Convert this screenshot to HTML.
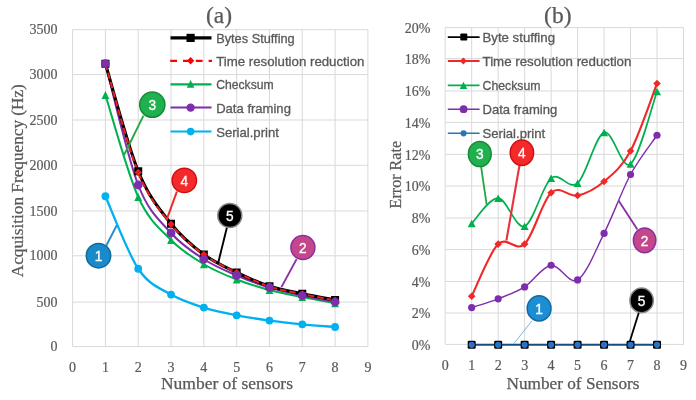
<!DOCTYPE html><html><head><meta charset="utf-8"><style>html,body{margin:0;padding:0;background:#fff;}svg{display:block;filter:blur(0.45px);}</style></head><body>
<svg width="696" height="400" viewBox="0 0 696 400">
<rect width="696" height="400" fill="#fff"/>
<path d="M72.60,346.60H367.90M72.60,302.10H367.90M72.60,255.80H367.90M72.60,211.00H367.90M72.60,165.30H367.90M72.60,120.00H367.90M72.60,74.60H367.90M72.60,29.70H367.90M72.60,29.70V346.60M105.41,29.70V346.60M138.22,29.70V346.60M171.03,29.70V346.60M203.84,29.70V346.60M236.66,29.70V346.60M269.47,29.70V346.60M302.28,29.70V346.60M335.09,29.70V346.60M367.90,29.70V346.60" stroke="#d9d9d9" stroke-width="1" fill="none"/>
<path d="M445.20,344.40H683.50M445.20,313.00H683.50M445.20,281.50H683.50M445.20,249.60H683.50M445.20,218.00H683.50M445.20,186.00H683.50M445.20,154.40H683.50M445.20,122.40H683.50M445.20,91.00H683.50M445.20,58.60H683.50M445.20,27.60H683.50M445.20,27.60V344.40M471.68,27.60V344.40M498.16,27.60V344.40M524.63,27.60V344.40M551.11,27.60V344.40M577.59,27.60V344.40M604.07,27.60V344.40M630.54,27.60V344.40M657.02,27.60V344.40M683.50,27.60V344.40" stroke="#d9d9d9" stroke-width="1" fill="none"/>
<g font-family="Liberation Serif, serif" font-size="14" fill="#595959" stroke="#595959" stroke-width="0.2">
<text x="57.6" y="351.20" text-anchor="end">0</text>
<text x="57.6" y="306.70" text-anchor="end">500</text>
<text x="57.6" y="260.40" text-anchor="end">1000</text>
<text x="57.6" y="215.60" text-anchor="end">1500</text>
<text x="57.6" y="169.90" text-anchor="end">2000</text>
<text x="57.6" y="124.60" text-anchor="end">2500</text>
<text x="57.6" y="79.20" text-anchor="end">3000</text>
<text x="57.6" y="34.30" text-anchor="end">3500</text>
<text x="72.60" y="372.2" text-anchor="middle">0</text>
<text x="105.41" y="372.2" text-anchor="middle">1</text>
<text x="138.22" y="372.2" text-anchor="middle">2</text>
<text x="171.03" y="372.2" text-anchor="middle">3</text>
<text x="203.84" y="372.2" text-anchor="middle">4</text>
<text x="236.66" y="372.2" text-anchor="middle">5</text>
<text x="269.47" y="372.2" text-anchor="middle">6</text>
<text x="302.28" y="372.2" text-anchor="middle">7</text>
<text x="335.09" y="372.2" text-anchor="middle">8</text>
<text x="367.90" y="372.2" text-anchor="middle">9</text>
<text x="430.3" y="349.50" text-anchor="end">0%</text>
<text x="430.3" y="318.10" text-anchor="end">2%</text>
<text x="430.3" y="286.60" text-anchor="end">4%</text>
<text x="430.3" y="254.70" text-anchor="end">6%</text>
<text x="430.3" y="223.10" text-anchor="end">8%</text>
<text x="430.3" y="191.10" text-anchor="end">10%</text>
<text x="430.3" y="159.50" text-anchor="end">12%</text>
<text x="430.3" y="127.50" text-anchor="end">14%</text>
<text x="430.3" y="96.10" text-anchor="end">16%</text>
<text x="430.3" y="63.70" text-anchor="end">18%</text>
<text x="430.3" y="32.70" text-anchor="end">20%</text>
<text x="445.20" y="369.7" text-anchor="middle">0</text>
<text x="471.68" y="369.7" text-anchor="middle">1</text>
<text x="498.16" y="369.7" text-anchor="middle">2</text>
<text x="524.63" y="369.7" text-anchor="middle">3</text>
<text x="551.11" y="369.7" text-anchor="middle">4</text>
<text x="577.59" y="369.7" text-anchor="middle">5</text>
<text x="604.07" y="369.7" text-anchor="middle">6</text>
<text x="630.54" y="369.7" text-anchor="middle">7</text>
<text x="657.02" y="369.7" text-anchor="middle">8</text>
<text x="683.50" y="369.7" text-anchor="middle">9</text>
</g>
<g font-family="Liberation Serif, serif" fill="#595959" stroke="#595959" stroke-width="0.25">
<text x="227" y="389" font-size="16" text-anchor="middle" textLength="132" lengthAdjust="spacingAndGlyphs">Number of sensors</text>
<text x="573" y="388.8" font-size="16" text-anchor="middle" textLength="133" lengthAdjust="spacingAndGlyphs">Number of Sensors</text>
<text transform="translate(22.5,180.7) rotate(-90)" font-size="16" text-anchor="middle" textLength="193" lengthAdjust="spacingAndGlyphs">Acquisition Frequency (Hz)</text>
<text transform="translate(401,174.7) rotate(-90)" font-size="16" text-anchor="middle" textLength="67.4" lengthAdjust="spacingAndGlyphs">Error Rate</text>
<text x="219.1" y="23" font-size="23.5" text-anchor="middle">(a)</text>
<text x="557.8" y="23" font-size="23.5" text-anchor="middle">(b)</text>
</g>
<g fill="none" stroke-linejoin="round">
<path d="M105.41,196.25 C110.88,208.33 127.29,252.36 138.22,268.75 C149.16,285.14 160.10,288.12 171.03,294.60 C181.97,301.08 192.91,304.15 203.84,307.60 C214.78,311.05 225.72,313.13 236.66,315.30 C247.59,317.47 258.53,319.10 269.47,320.60 C280.40,322.10 291.34,323.23 302.28,324.30 C313.21,325.37 329.62,326.55 335.09,327.00" stroke="#00b0f0" stroke-width="2.3"/>
<path d="M105.41,95.00 C110.88,112.00 127.29,172.83 138.22,197.00 C149.16,221.17 160.10,228.79 171.03,240.00 C181.97,251.21 192.91,257.67 203.84,264.25 C214.78,270.83 225.72,275.21 236.66,279.50 C247.59,283.79 258.53,287.08 269.47,290.00 C280.40,292.92 291.34,294.79 302.28,297.00 C313.21,299.21 329.62,302.21 335.09,303.25" stroke="#00b050" stroke-width="2.0"/>
<path d="M105.41,63.75 C110.88,83.96 127.29,156.79 138.22,185.00 C149.16,213.21 160.10,220.62 171.03,233.00 C181.97,245.38 192.91,252.17 203.84,259.25 C214.78,266.33 225.72,270.79 236.66,275.50 C247.59,280.21 258.53,284.17 269.47,287.50 C280.40,290.83 291.34,293.08 302.28,295.50 C313.21,297.92 329.62,300.92 335.09,302.00" stroke="#7e2dab" stroke-width="2.0"/>
<path d="M105.41,63.75 C110.88,81.67 127.29,144.58 138.22,171.25 C149.16,197.92 160.10,209.88 171.03,223.75 C181.97,237.62 192.91,246.38 203.84,254.50 C214.78,262.62 225.72,267.21 236.66,272.50 C247.59,277.79 258.53,282.71 269.47,286.25 C280.40,289.79 291.34,291.46 302.28,293.75 C313.21,296.04 329.62,298.96 335.09,300.00" stroke="#000" stroke-width="3.1"/>
<path d="M105.41,63.75 C110.88,81.88 127.29,145.75 138.22,172.50 C149.16,199.25 160.10,210.58 171.03,224.25 C181.97,237.92 192.91,246.46 203.84,254.50 C214.78,262.54 225.72,267.17 236.66,272.50 C247.59,277.83 258.53,282.92 269.47,286.50 C280.40,290.08 291.34,291.67 302.28,294.00 C313.21,296.33 329.62,299.42 335.09,300.50" stroke="#e82020" stroke-width="2.0" stroke-dasharray="6.5,3"/>
</g>
<circle cx="105.41" cy="196.25" r="3.90" fill="#00b0f0"/>
<circle cx="138.22" cy="268.75" r="3.90" fill="#00b0f0"/>
<circle cx="171.03" cy="294.60" r="3.90" fill="#00b0f0"/>
<circle cx="203.84" cy="307.60" r="3.90" fill="#00b0f0"/>
<circle cx="236.66" cy="315.30" r="3.90" fill="#00b0f0"/>
<circle cx="269.47" cy="320.60" r="3.90" fill="#00b0f0"/>
<circle cx="302.28" cy="324.30" r="3.90" fill="#00b0f0"/>
<circle cx="335.09" cy="327.00" r="3.90" fill="#00b0f0"/>
<path d="M105.41,91.10L109.31,98.90L101.51,98.90Z" fill="#00b050"/>
<path d="M138.22,193.10L142.12,200.90L134.32,200.90Z" fill="#00b050"/>
<path d="M171.03,236.10L174.93,243.90L167.13,243.90Z" fill="#00b050"/>
<path d="M203.84,260.35L207.74,268.15L199.94,268.15Z" fill="#00b050"/>
<path d="M236.66,275.60L240.56,283.40L232.76,283.40Z" fill="#00b050"/>
<path d="M269.47,286.10L273.37,293.90L265.57,293.90Z" fill="#00b050"/>
<path d="M302.28,293.10L306.18,300.90L298.38,300.90Z" fill="#00b050"/>
<path d="M335.09,299.35L338.99,307.15L331.19,307.15Z" fill="#00b050"/>
<rect x="101.41" y="59.75" width="8.00" height="8.00" fill="#000"/>
<rect x="134.22" y="167.25" width="8.00" height="8.00" fill="#000"/>
<rect x="167.03" y="219.75" width="8.00" height="8.00" fill="#000"/>
<rect x="199.84" y="250.50" width="8.00" height="8.00" fill="#000"/>
<rect x="232.66" y="268.50" width="8.00" height="8.00" fill="#000"/>
<rect x="265.47" y="282.25" width="8.00" height="8.00" fill="#000"/>
<rect x="298.28" y="289.75" width="8.00" height="8.00" fill="#000"/>
<rect x="331.09" y="296.00" width="8.00" height="8.00" fill="#000"/>
<path d="M105.41,60.05L109.11,63.75L105.41,67.45L101.71,63.75Z" fill="#f01c1c"/>
<path d="M138.22,168.80L141.92,172.50L138.22,176.20L134.52,172.50Z" fill="#f01c1c"/>
<path d="M171.03,220.55L174.73,224.25L171.03,227.95L167.33,224.25Z" fill="#f01c1c"/>
<path d="M203.84,250.80L207.54,254.50L203.84,258.20L200.14,254.50Z" fill="#f01c1c"/>
<path d="M236.66,268.80L240.36,272.50L236.66,276.20L232.96,272.50Z" fill="#f01c1c"/>
<path d="M269.47,282.80L273.17,286.50L269.47,290.20L265.77,286.50Z" fill="#f01c1c"/>
<path d="M302.28,290.30L305.98,294.00L302.28,297.70L298.58,294.00Z" fill="#f01c1c"/>
<path d="M335.09,296.80L338.79,300.50L335.09,304.20L331.39,300.50Z" fill="#f01c1c"/>
<circle cx="105.41" cy="63.75" r="4.40" fill="#7e2dab"/>
<circle cx="138.22" cy="185.00" r="4.40" fill="#7e2dab"/>
<circle cx="171.03" cy="233.00" r="4.40" fill="#7e2dab"/>
<circle cx="203.84" cy="259.25" r="4.40" fill="#7e2dab"/>
<circle cx="236.66" cy="275.50" r="4.40" fill="#7e2dab"/>
<circle cx="269.47" cy="287.50" r="4.40" fill="#7e2dab"/>
<circle cx="302.28" cy="295.50" r="4.40" fill="#7e2dab"/>
<circle cx="335.09" cy="302.00" r="4.40" fill="#7e2dab"/>
<g fill="none" stroke-linejoin="round">
<path d="M471.68,307.60 C476.09,306.13 489.33,302.25 498.16,298.80 C506.98,295.35 515.81,292.49 524.63,286.90 C533.46,281.31 542.29,266.42 551.11,265.25 C559.94,264.08 568.76,285.21 577.59,279.90 C586.41,274.59 595.24,250.97 604.07,233.40 C612.89,215.83 621.72,190.86 630.54,174.50 C639.37,158.14 652.61,141.79 657.02,135.25" stroke="#7e2dab" stroke-width="1.4"/>
<path d="M471.68,223.50 C476.09,219.28 489.33,197.74 498.16,198.20 C506.98,198.66 515.81,229.57 524.63,226.25 C533.46,222.93 542.29,185.48 551.11,178.30 C559.94,171.12 568.76,190.83 577.59,183.20 C586.41,175.57 595.24,135.70 604.07,132.50 C612.89,129.30 621.72,170.83 630.54,164.00 C639.37,157.17 652.61,103.58 657.02,91.50" stroke="#00b050" stroke-width="1.7"/>
<path d="M471.68,296.30 C476.09,287.60 489.33,252.80 498.16,244.10 C506.98,235.40 515.81,252.67 524.63,244.10 C533.46,235.53 542.29,200.80 551.11,192.70 C559.94,184.60 568.76,197.37 577.59,195.50 C586.41,193.63 595.24,188.92 604.07,181.50 C612.89,174.08 621.72,167.33 630.54,151.00 C639.37,134.67 652.61,94.75 657.02,83.50" stroke="#f02828" stroke-width="2.1"/>
<path d="M471.68,344.80H657.02" stroke="#1a4a7e" stroke-width="2.0"/>
</g>
<circle cx="471.68" cy="307.60" r="3.60" fill="#7e2dab"/>
<circle cx="498.16" cy="298.80" r="3.60" fill="#7e2dab"/>
<circle cx="524.63" cy="286.90" r="3.60" fill="#7e2dab"/>
<circle cx="551.11" cy="265.25" r="3.60" fill="#7e2dab"/>
<circle cx="577.59" cy="279.90" r="3.60" fill="#7e2dab"/>
<circle cx="604.07" cy="233.40" r="3.60" fill="#7e2dab"/>
<circle cx="630.54" cy="174.50" r="3.60" fill="#7e2dab"/>
<circle cx="657.02" cy="135.25" r="3.60" fill="#7e2dab"/>
<path d="M471.68,219.70L475.68,227.30L467.68,227.30Z" fill="#00b050"/>
<path d="M498.16,194.40L502.16,202.00L494.16,202.00Z" fill="#00b050"/>
<path d="M524.63,222.45L528.63,230.05L520.63,230.05Z" fill="#00b050"/>
<path d="M551.11,174.50L555.11,182.10L547.11,182.10Z" fill="#00b050"/>
<path d="M577.59,179.40L581.59,187.00L573.59,187.00Z" fill="#00b050"/>
<path d="M604.07,128.70L608.07,136.30L600.07,136.30Z" fill="#00b050"/>
<path d="M630.54,160.20L634.54,167.80L626.54,167.80Z" fill="#00b050"/>
<path d="M657.02,87.70L661.02,95.30L653.02,95.30Z" fill="#00b050"/>
<path d="M471.68,292.50L475.48,296.30L471.68,300.10L467.88,296.30Z" fill="#f02828"/>
<path d="M498.16,240.30L501.96,244.10L498.16,247.90L494.36,244.10Z" fill="#f02828"/>
<path d="M524.63,240.30L528.43,244.10L524.63,247.90L520.83,244.10Z" fill="#f02828"/>
<path d="M551.11,188.90L554.91,192.70L551.11,196.50L547.31,192.70Z" fill="#f02828"/>
<path d="M577.59,191.70L581.39,195.50L577.59,199.30L573.79,195.50Z" fill="#f02828"/>
<path d="M604.07,177.70L607.87,181.50L604.07,185.30L600.27,181.50Z" fill="#f02828"/>
<path d="M630.54,147.20L634.34,151.00L630.54,154.80L626.74,151.00Z" fill="#f02828"/>
<path d="M657.02,79.70L660.82,83.50L657.02,87.30L653.22,83.50Z" fill="#f02828"/>
<rect x="467.68" y="340.80" width="8" height="8" rx="1.3" fill="#000"/>
<circle cx="471.68" cy="344.80" r="3.10" fill="#2a72c4"/>
<rect x="494.16" y="340.80" width="8" height="8" rx="1.3" fill="#000"/>
<circle cx="498.16" cy="344.80" r="3.10" fill="#2a72c4"/>
<rect x="520.63" y="340.80" width="8" height="8" rx="1.3" fill="#000"/>
<circle cx="524.63" cy="344.80" r="3.10" fill="#2a72c4"/>
<rect x="547.11" y="340.80" width="8" height="8" rx="1.3" fill="#000"/>
<circle cx="551.11" cy="344.80" r="3.10" fill="#2a72c4"/>
<rect x="573.59" y="340.80" width="8" height="8" rx="1.3" fill="#000"/>
<circle cx="577.59" cy="344.80" r="3.10" fill="#2a72c4"/>
<rect x="600.07" y="340.80" width="8" height="8" rx="1.3" fill="#000"/>
<circle cx="604.07" cy="344.80" r="3.10" fill="#2a72c4"/>
<rect x="626.54" y="340.80" width="8" height="8" rx="1.3" fill="#000"/>
<circle cx="630.54" cy="344.80" r="3.10" fill="#2a72c4"/>
<rect x="653.02" y="340.80" width="8" height="8" rx="1.3" fill="#000"/>
<circle cx="657.02" cy="344.80" r="3.10" fill="#2a72c4"/>
<path d="M170.5,37.90H211.5" stroke="#000" stroke-width="3.2"/>
<rect x="186.50" y="33.80" width="8.20" height="8.20" fill="#000"/>
<text x="216.2" y="42.80" font-family="Liberation Sans, sans-serif" font-size="13" fill="#595959" stroke="#595959" stroke-width="0.3" textLength="78.5" lengthAdjust="spacingAndGlyphs">Bytes Stuffing</text>
<path d="M170.2,60.80H212" stroke="#ff0000" stroke-width="2.2" stroke-dasharray="6.8,6.0"/>
<path d="M190.60,57.10L194.30,60.80L190.60,64.50L186.90,60.80Z" fill="#ff0000"/>
<text x="216.2" y="65.70" font-family="Liberation Sans, sans-serif" font-size="13" fill="#595959" stroke="#595959" stroke-width="0.3" textLength="148.3" lengthAdjust="spacingAndGlyphs">Time resolution reduction</text>
<path d="M170.5,84.40H211.5" stroke="#00b050" stroke-width="2.2"/>
<path d="M190.60,80.10L194.40,87.70L186.80,87.70Z" fill="#00b050"/>
<text x="216.2" y="89.30" font-family="Liberation Sans, sans-serif" font-size="13" fill="#595959" stroke="#595959" stroke-width="0.3" textLength="57.5" lengthAdjust="spacingAndGlyphs">Checksum</text>
<path d="M170.5,107.60H211.5" stroke="#7e2dab" stroke-width="2.0"/>
<circle cx="190.60" cy="107.60" r="4.20" fill="#7e2dab"/>
<text x="216.2" y="112.50" font-family="Liberation Sans, sans-serif" font-size="13" fill="#595959" stroke="#595959" stroke-width="0.3" textLength="74.7" lengthAdjust="spacingAndGlyphs">Data framing</text>
<path d="M170.5,131.60H211.5" stroke="#00b0f0" stroke-width="2.0"/>
<circle cx="190.60" cy="131.60" r="3.80" fill="#00b0f0"/>
<text x="216.2" y="136.50" font-family="Liberation Sans, sans-serif" font-size="13" fill="#595959" stroke="#595959" stroke-width="0.3" textLength="62.7" lengthAdjust="spacingAndGlyphs">Serial.print</text>
<path d="M447.8,37.10H479.6" stroke="#000" stroke-width="1.9"/>
<rect x="460.30" y="33.60" width="7" height="7" rx="1" fill="#000"/>
<text x="482.5" y="42.10" font-family="Liberation Sans, sans-serif" font-size="13" fill="#595959" stroke="#595959" stroke-width="0.3" textLength="72.5" lengthAdjust="spacingAndGlyphs">Byte stuffing</text>
<path d="M447.8,60.90H479.6" stroke="#f02828" stroke-width="2.0"/>
<path d="M463.40,57.40L466.90,60.90L463.40,64.40L459.90,60.90Z" fill="#f02828"/>
<text x="482.5" y="65.90" font-family="Liberation Sans, sans-serif" font-size="13" fill="#595959" stroke="#595959" stroke-width="0.3" textLength="148.9" lengthAdjust="spacingAndGlyphs">Time resolution reduction</text>
<path d="M447.8,85.30H479.6" stroke="#00b050" stroke-width="1.7"/>
<path d="M463.50,81.70L467.30,88.90L459.70,88.90Z" fill="#00b050"/>
<text x="482.5" y="90.30" font-family="Liberation Sans, sans-serif" font-size="13" fill="#595959" stroke="#595959" stroke-width="0.3" textLength="58.1" lengthAdjust="spacingAndGlyphs">Checksum</text>
<path d="M447.8,109.20H479.6" stroke="#7e2dab" stroke-width="1.5"/>
<circle cx="463.60" cy="109.20" r="3.90" fill="#7e2dab"/>
<text x="482.5" y="114.20" font-family="Liberation Sans, sans-serif" font-size="13" fill="#595959" stroke="#595959" stroke-width="0.3" textLength="74.8" lengthAdjust="spacingAndGlyphs">Data framing</text>
<path d="M447.8,133.30H479.6" stroke="#2e75b6" stroke-width="1.6"/>
<circle cx="463.60" cy="133.30" r="3.10" fill="#2e75b6"/>
<text x="482.5" y="138.30" font-family="Liberation Sans, sans-serif" font-size="13" fill="#595959" stroke="#595959" stroke-width="0.3" textLength="62.7" lengthAdjust="spacingAndGlyphs">Serial.print</text>
<path d="M143.50,115.70L124.00,155.00" stroke="#22a846" stroke-width="1.9"/>
<ellipse cx="152.30" cy="104.70" rx="12.60" ry="12.60" fill="#20b04e" stroke="#178a3a" stroke-width="1.5"/>
<text x="152.30" y="110.15" font-family="Liberation Sans, sans-serif" font-size="15.2" fill="#fff" stroke="#fff" stroke-width="0.35" text-anchor="middle" textLength="7.6" lengthAdjust="spacingAndGlyphs">3</text>
<path d="M176.90,191.50L166.40,220.40" stroke="#ee2a2a" stroke-width="2.0"/>
<ellipse cx="184.30" cy="180.40" rx="12.20" ry="12.20" fill="#f42a2a" stroke="#d01010" stroke-width="1.5"/>
<text x="184.30" y="185.85" font-family="Liberation Sans, sans-serif" font-size="15.2" fill="#fff" stroke="#fff" stroke-width="0.35" text-anchor="middle" textLength="7.6" lengthAdjust="spacingAndGlyphs">4</text>
<path d="M226.90,227.40L218.10,263.30" stroke="#000" stroke-width="1.9"/>
<ellipse cx="229.80" cy="215.50" rx="12.00" ry="12.00" fill="#000" stroke="#888" stroke-width="1.5"/>
<text x="229.80" y="220.95" font-family="Liberation Sans, sans-serif" font-size="15.2" fill="#fff" stroke="#fff" stroke-width="0.35" text-anchor="middle" textLength="7.6" lengthAdjust="spacingAndGlyphs">5</text>
<path d="M296.60,259.10L281.40,287.10" stroke="#8a2fa0" stroke-width="1.9"/>
<ellipse cx="302.90" cy="247.50" rx="12.00" ry="12.00" fill="#c4478c" stroke="#8a2fa0" stroke-width="1.5"/>
<text x="302.90" y="252.95" font-family="Liberation Sans, sans-serif" font-size="15.2" fill="#fff" stroke="#fff" stroke-width="0.35" text-anchor="middle" textLength="7.6" lengthAdjust="spacingAndGlyphs">2</text>
<path d="M106.20,245.80L116.80,225.20" stroke="#2a8ac8" stroke-width="1.9"/>
<ellipse cx="98.50" cy="255.70" rx="12.20" ry="12.20" fill="#1a8ac8" stroke="#0f6aa0" stroke-width="1.5"/>
<text x="98.50" y="261.15" font-family="Liberation Sans, sans-serif" font-size="15.2" fill="#fff" stroke="#fff" stroke-width="0.35" text-anchor="middle" textLength="7.6" lengthAdjust="spacingAndGlyphs">1</text>
<path d="M481.00,166.00L486.60,204.30" stroke="#22a846" stroke-width="1.8"/>
<ellipse cx="479.80" cy="154.00" rx="11.40" ry="12.60" fill="#20b04e" stroke="#178a3a" stroke-width="1.5"/>
<text x="479.80" y="159.45" font-family="Liberation Sans, sans-serif" font-size="15.2" fill="#fff" stroke="#fff" stroke-width="0.35" text-anchor="middle" textLength="7.6" lengthAdjust="spacingAndGlyphs">3</text>
<path d="M519.50,165.30L506.40,240.50" stroke="#e8323c" stroke-width="2.1"/>
<ellipse cx="521.90" cy="152.70" rx="11.70" ry="12.70" fill="#f42a2a" stroke="#d01010" stroke-width="1.5"/>
<text x="521.90" y="158.15" font-family="Liberation Sans, sans-serif" font-size="15.2" fill="#fff" stroke="#fff" stroke-width="0.35" text-anchor="middle" textLength="7.6" lengthAdjust="spacingAndGlyphs">4</text>
<path d="M637.40,229.50L618.50,200.40" stroke="#8a2fa0" stroke-width="1.8"/>
<ellipse cx="644.60" cy="240.30" rx="11.20" ry="12.40" fill="#c4478c" stroke="#8a2fa0" stroke-width="1.5"/>
<text x="644.60" y="245.75" font-family="Liberation Sans, sans-serif" font-size="15.2" fill="#fff" stroke="#fff" stroke-width="0.35" text-anchor="middle" textLength="7.6" lengthAdjust="spacingAndGlyphs">2</text>
<path d="M639.00,312.00L629.80,341.50" stroke="#000" stroke-width="1.8"/>
<ellipse cx="641.60" cy="300.40" rx="11.70" ry="12.30" fill="#000" stroke="#888" stroke-width="1.5"/>
<text x="641.60" y="305.85" font-family="Liberation Sans, sans-serif" font-size="15.2" fill="#fff" stroke="#fff" stroke-width="0.35" text-anchor="middle" textLength="7.6" lengthAdjust="spacingAndGlyphs">5</text>
<path d="M532.10,320.60L513.70,343.80" stroke="#7fb2e0" stroke-width="1.0"/>
<ellipse cx="539.10" cy="308.40" rx="11.90" ry="12.60" fill="#1c8fd4" stroke="#0f6aa0" stroke-width="1.5"/>
<text x="539.10" y="313.85" font-family="Liberation Sans, sans-serif" font-size="15.2" fill="#fff" stroke="#fff" stroke-width="0.35" text-anchor="middle" textLength="7.6" lengthAdjust="spacingAndGlyphs">1</text>
</svg></body></html>
